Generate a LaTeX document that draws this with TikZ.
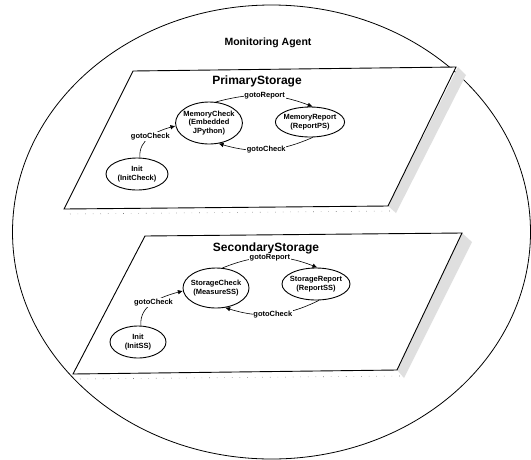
\documentclass[tikz,border=0pt]{standalone}
\usepackage{fontspec}
\setmainfont{Liberation Sans}
\usepackage{tikz}
\usetikzlibrary{arrows.meta,shapes.geometric}

\begin{document}
\begin{tikzpicture}[
    x=1pt, y=1pt,
    state/.style={ellipse,draw,line width=0.9pt,inner xsep=-2pt,inner ysep=1pt,align=center,
                  font=\fontsize{7.5}{8.5}\selectfont\bfseries},
    lbl/.style={font=\fontsize{7.5}{8}\selectfont\bfseries,fill=white,inner sep=0.8pt},
    trans/.style={-{Latex[length=5pt,width=4.5pt]},line width=0.6pt},
    plane/.style={draw,line width=0.9pt,fill=white},
    grain/.style={fill=gray!25,draw=none},
    speck/.style={gray,line width=0.6pt,dash pattern=on 0.6pt off 7pt},
    title/.style={font=\fontsize{12}{14}\selectfont\bfseries},
  ]
  \useasboundingbox (0,0) rectangle (531,-459);

  % agent boundary
  \draw[line width=0.8pt] (271.5,-232) ellipse [x radius=259, y radius=227];
  \node[font=\fontsize{10.5}{12}\selectfont\bfseries] (agent) at (268,-43) {Monitoring Agent};

  % primary storage plane
  \fill[grain] (458,-67) -- (466,-75) -- (396,-213) -- (388,-206) -- cycle;
  \draw[speck] (70,-214) -- (390,-211);
  \draw[plane] (133,-71) -- (456,-67) -- (388,-206) -- (64,-209) -- cycle;
  \node[title] (ps) at (257,-81) {PrimaryStorage};

  \node[state,minimum width=66,minimum height=42] (mc1) at (209,-123) {MemoryCheck\\(Embedded\\JPython)};
  \node[state,minimum width=66,minimum height=30] (mr1) at (310,-122) {MemoryReport\\(ReportPS)};
  \node[state,minimum width=62,minimum height=32] (in1) at (137,-174) {Init\\(InitCheck)};

  \draw[trans] (mc1.72) to[bend left=18] node[lbl] {gotoReport} (mr1.80);
  \draw[trans] (mr1.-80) to[bend left=20] node[lbl] {gotoCheck} (mc1.-65);
  \draw[trans] (in1.80) to[out=95,in=195] node[lbl] {gotoCheck} (mc1.185);

  % secondary storage plane
  \fill[grain] (462,-233) -- (472,-242) -- (404,-378) -- (397,-370) -- cycle;
  \draw[speck] (80,-379) -- (400,-376);
  \draw[plane] (145,-236) -- (462,-233) -- (397,-370) -- (73,-374) -- cycle;
  \node[title] (ss) at (266,-248) {SecondaryStorage};

  \node[state,minimum width=66,minimum height=40] (sc2) at (216,-288) {StorageCheck\\(MeasureSS)};
  \node[state,minimum width=68,minimum height=32] (sr2) at (316,-284) {StorageReport\\(ReportSS)};
  \node[state,minimum width=56,minimum height=32] (in2) at (138,-342) {Init\\(InitSS)};

  \draw[trans] (sc2.72) to[bend left=22] node[lbl] {gotoReport} (sr2.85);
  \draw[trans] (sr2.-80) to[bend left=22] node[lbl] {gotoCheck} (sc2.-65);
  \draw[trans] (in2.80) to[out=95,in=195] node[lbl] {gotoCheck} (sc2.185);

\end{tikzpicture}
\end{document}
